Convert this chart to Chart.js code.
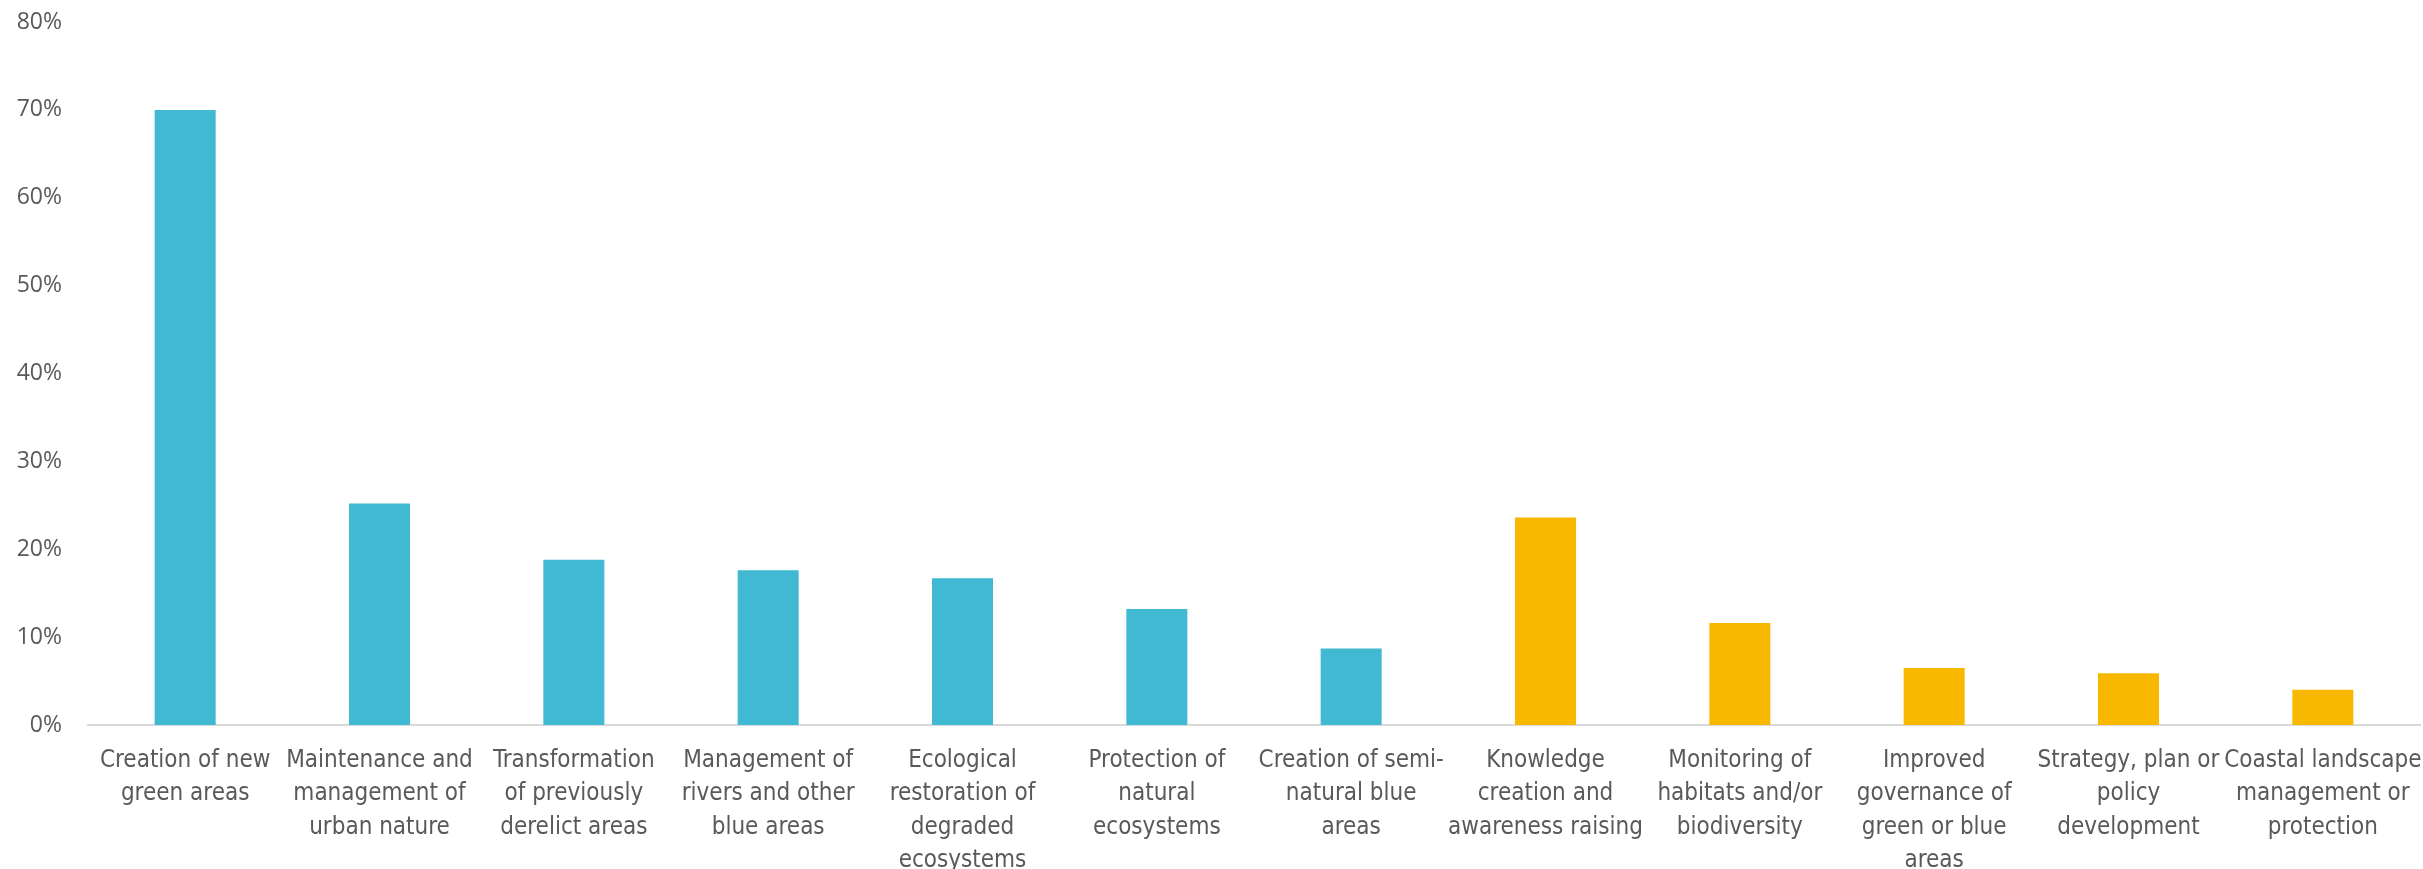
<!DOCTYPE html>
<html>
<head>
<meta charset="utf-8">
<script src="https://cdn.jsdelivr.net/npm/chart.js@4/dist/chart.umd.min.js"></script>
<style>
   html, body { margin: 0; padding: 0; background: #ffffff; }
   #wrap { width: 2423px; height: 869px; position: relative; }
</style>
</head>
<body>
<div id="wrap"><canvas id="actions"></canvas></div>
<script>
'use strict';

// type of action, one label per bar (multi-line)
const categories = [
   ['Creation of new', 'green areas'],
   ['Maintenance and', 'management of', 'urban nature'],
   ['Transformation', 'of previously', 'derelict areas'],
   ['Management of', 'rivers and other', 'blue areas'],
   ['Ecological', 'restoration of', 'degraded', 'ecosystems'],
   ['Protection of', 'natural', 'ecosystems'],
   ['Creation of semi-', 'natural blue', 'areas'],
   ['Knowledge', 'creation and', 'awareness raising'],
   ['Monitoring of', 'habitats and/or', 'biodiversity'],
   ['Improved', 'governance of', 'green or blue', 'areas'],
   ['Strategy, plan or', 'policy', 'development'],
   ['Coastal landscape', 'management or', 'protection']
];

// share of cases, in percent
const shares = [70.0, 25.2, 18.8, 17.6, 16.7, 13.2, 8.7, 23.6, 11.6, 6.5, 5.9, 4.0];

// 1 = on-the-ground actions, 2 = supporting actions
const groups = [1, 1, 1, 1, 1, 1, 1, 2, 2, 2, 2, 2];

const yTicks = [0, 10, 20, 30, 40, 50, 60, 70, 80];

const groupColors = { 1: '#41B9D2', 2: '#F9B800' };
const labelColor = '#595959';

// labels are allowed to overhang the plot edges, like in the office charts
function noEdgePadding(scale) {
   scale.paddingLeft = 0;
   scale.paddingRight = 0;
   scale.paddingTop = 0;
   scale.paddingBottom = 0;
}

const ctx = document.getElementById('actions');

new Chart(ctx, {
   type: 'bar',
   data: {
      labels: categories,
      datasets: [{
         data: shares,
         backgroundColor: groups.map(g => groupColors[g]),
         borderWidth: 0,
         categoryPercentage: 1,
         barPercentage: 0.314
      }]
   },
   options: {
      responsive: true,
      maintainAspectRatio: false,
      animation: false,
      layout: {
         padding: { top: 22, right: 3, left: 0, bottom: 0 }
      },
      plugins: {
         legend: { display: false },
         tooltip: { enabled: false },
         title: { display: false }
      },
      scales: {
         x: {
            grid: {
               display: true,
               drawOnChartArea: false,
               drawTicks: false
            },
            border: {
               display: true,
               color: '#D9D9D9',
               width: 2
            },
            ticks: {
               color: labelColor,
               padding: 19,
               maxRotation: 0,
               minRotation: 0,
               autoSkip: false,
               font: {
                  family: "'Liberation Sans Narrow', 'DejaVu Sans Condensed', 'Open Sans', sans-serif",
                  size: 24,
                  lineHeight: '33.5px'
               }
            },
            afterFit: function (scale) {
               scale.height = 144;
               noEdgePadding(scale);
            }
         },
         y: {
            min: 0,
            max: 80,
            afterBuildTicks: function (scale) {
               scale.ticks = yTicks.map(v => ({ value: v }));
            },
            grid: { display: false, drawTicks: false },
            border: { display: false },
            ticks: {
               color: labelColor,
               padding: 26,
               callback: v => v + '%',
               font: {
                  family: "'Open Sans', sans-serif",
                  size: 23
               }
            },
            afterFit: function (scale) {
               scale.width = 88;
               noEdgePadding(scale);
            }
         }
      }
   }
});
</script>
</body>
</html>
